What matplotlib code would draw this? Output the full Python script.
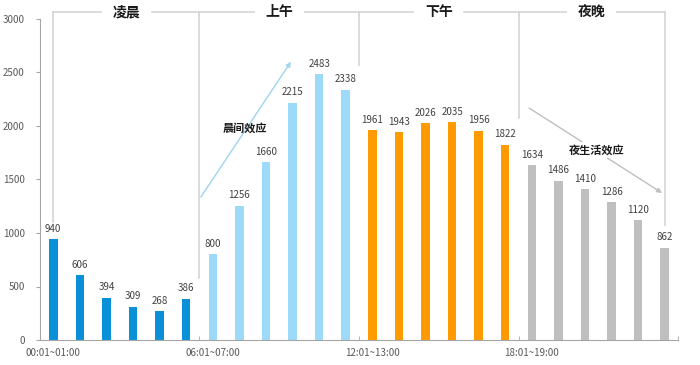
import numpy as np
import matplotlib.pyplot as plt

plt.rcParams['font.family'] = ['Noto Sans CJK SC', 'DejaVu Sans']

# 每小时数值
values = [940, 606, 394, 309, 268, 386,
          800, 1256, 1660, 2215, 2483, 2338,
          1961, 1943, 2026, 2035, 1956, 1822,
          1634, 1486, 1410, 1286, 1120, 862]
periods = ["凌晨", "上午", "下午", "夜晚"]
period_colors = ["#0a90d8", "#9dd9f8", "#ff9a00", "#bfbfbf"]
tick_labels = ["00:01~01:00", "06:01~07:00", "12:01~13:00", "18:01~19:00"]

x = np.arange(len(values))
colors = [period_colors[i // 6] for i in range(len(values))]

fig = plt.figure(figsize=(7, 3.65), dpi=100)
ax = fig.add_axes([40 / 700, 25 / 365, 638 / 700, 321 / 365])

ax.bar(x, values, width=0.32, color=colors, zorder=2)
for xi, v in zip(x, values):
    ax.annotate(str(v), (xi, v), xytext=(0, 4), textcoords="offset points",
                ha="center", va="bottom", fontsize=7, color="#404040")

ax.set_xlim(-0.5, 23.5)
ax.set_ylim(0, 3000)
ax.set_yticks(np.arange(0, 3001, 500))
ax.set_xticks([0, 6, 12, 18])
ax.set_xticklabels(tick_labels)
ax.set_xticks([5.5, 11.5, 17.5, 23.5], minor=True)
ax.tick_params(axis="x", which="major", length=0, labelsize=7, colors="#595959", pad=6)
ax.tick_params(axis="x", which="minor", direction="in", length=3, color="#a6a6a6")
ax.tick_params(axis="y", length=3, color="#a6a6a6", labelsize=7, labelcolor="#595959", pad=8)
for s in ["top", "right"]:
    ax.spines[s].set_visible(False)
for s in ["left", "bottom"]:
    ax.spines[s].set_color("#a6a6a6")

# 时段分隔线和标题
line_c = "#d4d4d4"
top = 3065
dividers = [0, 5.5, 11.5, 17.5, 23]
line_ends = [1100, 580, 2570, 2075, 1075]
for dx, ye in zip(dividers, line_ends):
    ax.plot([dx, dx], [ye, top], color=line_c, lw=1.2, clip_on=False, zorder=1)
for i, name in enumerate(periods):
    a, b = dividers[i], dividers[i + 1]
    mid = (a + b) / 2
    ax.plot([a, mid - 0.95], [top, top], color=line_c, lw=1.2, clip_on=False)
    ax.plot([mid + 0.95, b], [top, top], color=line_c, lw=1.2, clip_on=False)
    ax.text(mid, top, name, ha="center", va="center", fontsize=10,
            fontweight="bold", color="#1a1a1a", clip_on=False)

# 效应箭头
ax.annotate("", xy=(8.94, 2600), xytext=(5.55, 1336),
            arrowprops=dict(arrowstyle="-|>", color="#9dd5f0", lw=1,
                            mutation_scale=7, shrinkA=0, shrinkB=0))
ax.text(7.2, 1981, "晨间效应", ha="center", va="center", fontsize=8,
        fontweight="bold", color="#1a1a1a")
ax.annotate("", xy=(22.9, 1374), xytext=(17.9, 2168),
            arrowprops=dict(arrowstyle="-|>", color="#bfbfbf", lw=1,
                            mutation_scale=7, shrinkA=0, shrinkB=0))
ax.text(20.45, 1776, "夜生活效应", ha="center", va="center", fontsize=8,
        fontweight="bold", color="#1a1a1a",
        bbox=dict(facecolor="white", edgecolor="none", pad=1))

fig.savefig("out.png", dpi=100)
